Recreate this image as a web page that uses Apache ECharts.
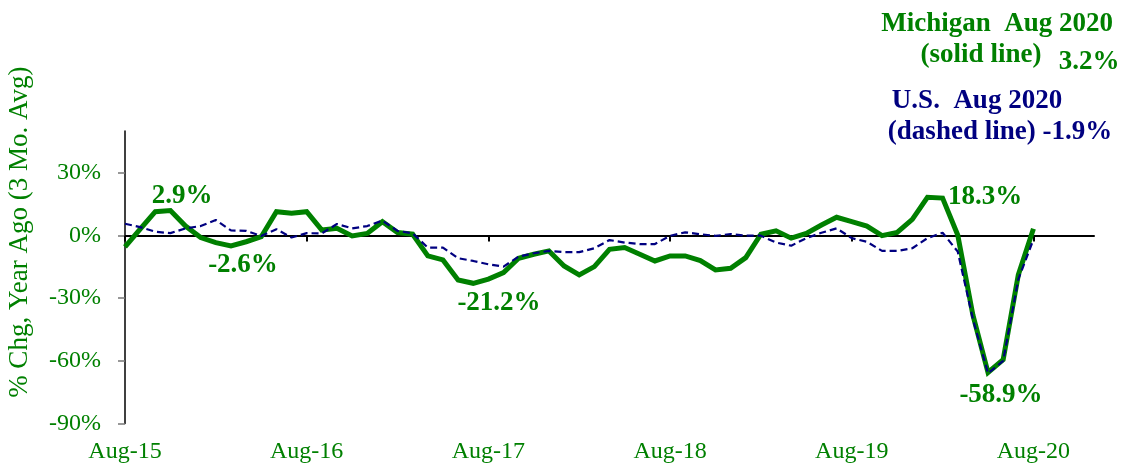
<!DOCTYPE html>
<html>
<head>
<meta charset="utf-8">
<title>Michigan vs U.S.</title>
<script src="https://cdn.jsdelivr.net/npm/echarts@6/dist/echarts.min.js"></script>
<style>
  html, body { margin: 0; padding: 0; background: #fff; }
  #chart { width: 1123px; height: 468px; }
</style>
</head>
<body>
<div id="chart"></div>
<script>
// monthly, Aug-15 .. Aug-20, axis runs on to Dec-20
const months = [
  "Aug-15", "Sep-15", "Oct-15", "Nov-15", "Dec-15", "Jan-16", "Feb-16", "Mar-16", "Apr-16", "May-16", "Jun-16", "Jul-16",
  "Aug-16", "Sep-16", "Oct-16", "Nov-16", "Dec-16", "Jan-17", "Feb-17", "Mar-17", "Apr-17", "May-17", "Jun-17", "Jul-17",
  "Aug-17", "Sep-17", "Oct-17", "Nov-17", "Dec-17", "Jan-18", "Feb-18", "Mar-18", "Apr-18", "May-18", "Jun-18", "Jul-18",
  "Aug-18", "Sep-18", "Oct-18", "Nov-18", "Dec-18", "Jan-19", "Feb-19", "Mar-19", "Apr-19", "May-19", "Jun-19", "Jul-19",
  "Aug-19", "Sep-19", "Oct-19", "Nov-19", "Dec-19", "Jan-20", "Feb-20", "Mar-20", "Apr-20", "May-20", "Jun-20", "Jul-20",
  "Aug-20", "Sep-20", "Oct-20", "Nov-20", "Dec-20"
];

// Michigan, solid line (% chg, 3 mo. avg)
const michigan = [
  -5.5, 3.0, 11.4, 11.9, 4.5, -1.0, -3.4, -5.0, -3.0, -0.6, 11.4, 10.6,
  11.4, 2.6, 3.4, -0.2, 1.0, 6.6, 1.4, 0.6, -9.8, -11.7, -21.3, -22.9,
  -20.9, -17.8, -10.9, -9.0, -7.4, -14.6, -18.9, -14.9, -6.6, -5.8, -9.0, -12.2,
  -9.8, -9.8, -12.0, -16.5, -15.7, -10.6, 0.6, 2.2, -1.3, 1.0, 5.0, 8.7,
  6.6, 4.5, -0.1, 1.5, 7.7, 18.3, 17.9, 0.2, -38.0, -65.6, -59.5, -18.9,
  3.2
];

// U.S., dashed line
const us = [
  5.6, 4.0, 1.8, 1.1, 3.4, 4.5, 7.4, 2.4, 2.2, -0.2, 3.0, -1.0,
  1.1, 1.0, 5.5, 3.4, 4.5, 7.1, 2.2, 1.0, -5.8, -5.8, -10.9, -12.2,
  -13.8, -14.9, -10.1, -8.5, -7.4, -8.0, -8.0, -6.1, -2.2, -3.4, -4.1, -4.1,
  -0.2, 1.5, 0.6, -0.2, 0.7, -0.1, -0.1, -3.4, -4.9, -1.3, 1.3, 3.4,
  -1.3, -3.0, -7.4, -7.4, -6.1, -1.3, 1.3, -7.7, -40.0, -66.0, -60.0, -21.0,
  -1.9
];

const yTicks = [-90, -60, -30, 0, 30];

const GREEN = "#008000";
const NAVY = "#000080";
const SERIF = "'Liberation Serif', 'Times New Roman', serif";

const chart = echarts.init(document.getElementById("chart"));

function note(text, x, y, color, align) {
  return {
    type: "text",
    x: x,
    y: y,
    style: {
      text: text,
      fill: color,
      font: "bold 27px " + SERIF,
      textAlign: align || "center",
      textVerticalAlign: "middle"
    }
  };
}

const option = {
  animation: false,
  backgroundColor: "#fff",
  grid: { left: 125, right: 29, top: 131, bottom: 44.5, outerBoundsMode: "none" },
  xAxis: [
    {
      // the zero line with the year ticks
      type: "category",
      data: months,
      boundaryGap: false,
      axisLine: { onZero: true, lineStyle: { color: "#000", width: 2 } },
      axisTick: { interval: 11, length: 6, lineStyle: { color: "#000", width: 2 } },
      axisLabel: { show: false },
      splitLine: { show: false }
    },
    {
      // labels along the bottom
      type: "category",
      data: months,
      boundaryGap: false,
      position: "bottom",
      axisLine: { show: false, onZero: false },
      axisTick: { show: false },
      axisLabel: {
        interval: 11,
        margin: 16,
        color: GREEN,
        fontFamily: SERIF,
        fontSize: 24
      },
      splitLine: { show: false }
    }
  ],
  yAxis: {
    type: "value",
    min: -90,
    max: 50,
    name: "% Chg, Year Ago (3 Mo. Avg)",
    nameLocation: "middle",
    nameRotate: 90,
    nameGap: 92,
    nameTextStyle: {
      color: GREEN,
      fontFamily: SERIF,
      fontSize: 27,
      padding: [0, 0, 0, 90]
    },
    axisLine: { show: true, onZero: false, lineStyle: { color: "#000", width: 1.5 } },
    axisTick: {
      show: true,
      customValues: yTicks,
      length: 7,
      lineStyle: { color: "#777", width: 1.5 }
    },
    axisLabel: {
      customValues: yTicks,
      margin: 24,
      color: GREEN,
      fontFamily: SERIF,
      fontSize: 24,
      formatter: function (v) { return v + "%"; }
    },
    splitLine: { show: false }
  },
  series: [
    {
      name: "Michigan",
      type: "line",
      data: michigan,
      showSymbol: false,
      symbol: "none",
      lineStyle: { color: GREEN, width: 5, join: "miter" },
      itemStyle: { color: GREEN },
      z: 2
    },
    {
      name: "U.S.",
      type: "line",
      data: us,
      showSymbol: false,
      symbol: "none",
      lineStyle: { color: NAVY, width: 2.2, type: [7, 4] },
      itemStyle: { color: NAVY },
      z: 3
    }
  ],
  graphic: [
    note("2.9%", 182, 196, GREEN),
    note("-2.6%", 243, 265, GREEN),
    note("-21.2%", 499, 303, GREEN),
    note("18.3%", 985, 197, GREEN),
    note("-58.9%", 1001, 395, GREEN),
    note("Michigan  Aug 2020", 1113, 24, GREEN, "right"),
    note("(solid line)", 981, 55, GREEN),
    note("3.2%", 1089, 62, GREEN),
    note("U.S.  Aug 2020", 977, 101, NAVY),
    note("(dashed line) -1.9%", 1000, 132, NAVY)
  ]
};

chart.setOption(option);
</script>
</body>
</html>
